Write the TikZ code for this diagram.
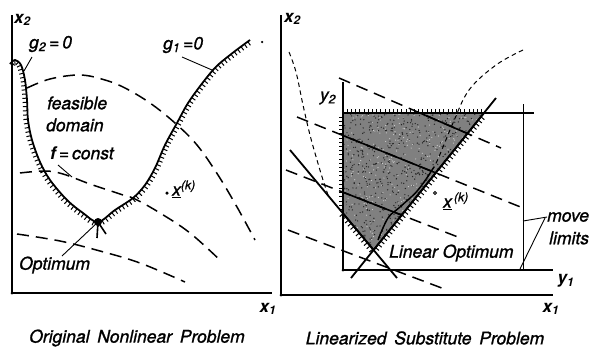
\documentclass[tikz,border=0pt]{standalone}
\usepackage{fontspec}
\setmainfont{TeX Gyre Heros}[ItalicFeatures={FakeBold=1.2}]
\usetikzlibrary{decorations.markings}
\begin{document}
\begin{tikzpicture}[x=1pt,y=-1pt,
  lbl/.style={font=\fontsize{17.5}{20}\selectfont\itshape, inner sep=0pt},
  axlbl/.style={font=\fontsize{17}{20}\selectfont\bfseries\itshape, inner sep=0pt},
  axis/.style={line width=1.1pt},
  constr/.style={line width=1.8pt, line join=round,
     postaction={decorate, decoration={markings, mark=between positions 0.005 and 0.995 step 4.2pt with {\draw[line width=1pt] (0pt,0pt) -- (0pt,-4.5pt);}}}},
  contour/.style={line width=1.5pt, dash pattern=on 12pt off 7pt},
  fine/.style={line width=1pt, dash pattern=on 4.5pt off 3.5pt},
  thick line/.style={line width=1.8pt},
  leader/.style={line width=0.9pt},
  dot/.style={circle, fill=black, inner sep=0pt, minimum size=3.5pt}
]
\useasboundingbox (0,0) rectangle (592,351);

%% ================= LEFT PANEL =================
\coordinate (LO) at (12,293);
\coordinate (LT) at (12,15);
\coordinate (LR) at (272,293);
\draw[axis] (LT) -- (LO) -- (LR);
\node[dot, minimum size=3pt] (LOd) at (LO) {};

% f = const contours
\draw[contour] plot[smooth, tension=0.6] coordinates {(27,88) (50,79) (80,75) (105,80) (125,88) (150,103) (175,123) (197,145) (218,175) (237,207) (255,240)};
\draw[contour] plot[smooth, tension=0.6] coordinates {(20,173) (45,171) (63,174) (90,184) (120,194) (135,199) (160,213) (190,233) (222,262)};
\draw[contour] plot[smooth, tension=0.6] coordinates {(17,234) (60,241) (100,251) (140,263) (185,282)};

% constraints g2 and g1
\draw[constr] plot[smooth, tension=0.55] coordinates {(10,64) (15,60) (21,65) (25,80) (27,100) (28,120) (32,140) (40,162) (50,180) (67,200) (83,213) (98,222) (115,210) (133,198) (145,185) (155,168) (165,145) (177,123) (190,100) (213,70) (230,55) (250,40)};
\node[dot, minimum size=2.5pt] (g1end) at (262,42) {};

% optimum
\coordinate (opt) at (98,222);
\fill (opt) circle (4pt);
\draw[line width=1.6pt] (opt) -- (97,238);
\draw[line width=1.6pt] (opt) -- (106,234);

% labels
\node[axlbl, anchor=west] (x2L) at (14,20) {x\textsubscript{2}};
\node[lbl, anchor=west] (g2) at (29,44) {g\textsubscript{2}\,=\,0};
\coordinate (g2p) at (24,71);
\draw[leader] (32,57) -- (g2p);
\node[lbl, anchor=west] (g1) at (163,45) {g\textsubscript{1}\,=0};
\coordinate (g1p) at (212,70);
\draw[leader] (182,57) -- (g1p);
\node[lbl, anchor=west] (feas) at (47,103) {feasible};
\node[lbl, anchor=west] (dom) at (46,125) {domain};
\node[lbl, anchor=west] (fc) at (50,153) {{\bfseries f}\,=\,const};
\coordinate (fcp) at (72,177);
\draw[leader] (58,165) -- (fcp);
\node[dot] (xkL) at (167,193) {};
\node[lbl, anchor=west] (xkLl) at (172,189) {\underline{x}\textsuperscript{(k)}};
\node[lbl, anchor=west] (optl) at (19,265) {Optimum};
\draw[leader] (62,256) -- (opt);
\node[axlbl] (x1L) at (268,309) {x\textsubscript{1}};
\node[lbl] (capL) at (137,338) {Original\, Nonlinear\, Problem};

%% ================= RIGHT PANEL =================
\coordinate (RO) at (281,295);
\draw[axis] (281,15) -- (RO) -- (553,295);
\node[dot, minimum size=3pt] (ROd) at (RO) {};

% y axes and move limits
\coordinate (YO) at (343,270);
\draw[axis] (343,82) -- (YO) -- (553,270);
\node[dot, minimum size=3pt] (YOd) at (YO) {};
\draw[line width=1.1pt] (343,113) -- (534,113);
\draw[line width=1pt] (523,104) -- (523,270);

% shaded feasible region of the linear problem
\coordinate (A) at (343,113);
\coordinate (B) at (484,113);
\coordinate (C) at (373.6,250);
\coordinate (D) at (343,213.4);
\fill[black!50] (A) -- (B) -- (C) -- (D) -- cycle;
\begin{scope}
  \clip (A) -- (B) -- (C) -- (D) -- cycle;
  \pgfmathsetseed{7}
  \foreach \i in {1,...,800} {
    \fill[black!85] ({343+rnd*141},{113+rnd*137}) circle (0.7pt);
  }
  \foreach \i in {1,...,400} {
    \fill[white!80!black] ({343+rnd*141},{113+rnd*137}) circle (0.6pt);
  }
  \draw[line width=1.6pt] (339,78) -- (501,148);
  \draw[line width=1.6pt] (297,117) -- (523,208);
  \draw[line width=1.6pt] (286,170) -- (463,239);
  \draw[line width=1.4pt] plot[smooth, tension=0.6] coordinates {(434,167) (418,190) (400,207) (388,218) (378,240)};
\end{scope}

% linear objective contours (dashed)
\draw[contour] (339,78) -- (501,148);
\draw[contour] (297,117) -- (523,208);
\draw[contour] (286,170) -- (463,239);
\draw[contour] (288,230) -- (447,290);

% original nonlinear constraints (fine dashed)
\draw[fine] plot[smooth, tension=0.6] coordinates {(289,52) (296,72) (303,105) (310,135) (317,160) (323,180) (328,195)};
\draw[fine] plot[smooth, tension=0.6] coordinates {(523,50) (496,65) (469,90) (453,123) (443,147) (434,167) (418,190) (400,207) (388,218) (378,240)};

% linearized constraints
\draw[thick line] (290,150) -- (397,278);
\draw[thick line] (351,278) -- (496,98);
\draw[constr] (B) -- (A) -- (D) -- (C) -- (B);

% labels
\node[axlbl, anchor=west] (x2R) at (284,19) {x\textsubscript{2}};
\node[lbl] (y2) at (328,98) {y\textsubscript{2}};
\node[circle, draw, line width=0.9pt, inner sep=0pt, minimum size=3pt] (xkR) at (435,193) {};
\node[lbl, anchor=west] (xkRl) at (443,201) {\underline{x}\textsuperscript{\,(k)}};
\node[lbl, anchor=west] (move) at (547,217) {move};
\node[lbl, anchor=west] (lim) at (549,238) {limits};
\coordinate (mv1) at (523,221);
\coordinate (mv2) at (520,269);
\draw[leader] (move.west) -- (mv1);
\draw[leader] (545,218) -- (mv2);
\node[lbl, anchor=west] (linopt) at (389,253) {Linear Optimum};
\node[axlbl] (y1) at (566,281) {y\textsubscript{1}};
\node[axlbl] (x1R) at (551,309) {x\textsubscript{1}};
\node[lbl] (capR) at (425,338) {Linearized\, Substitute\, Problem};
\end{tikzpicture}
\end{document}
